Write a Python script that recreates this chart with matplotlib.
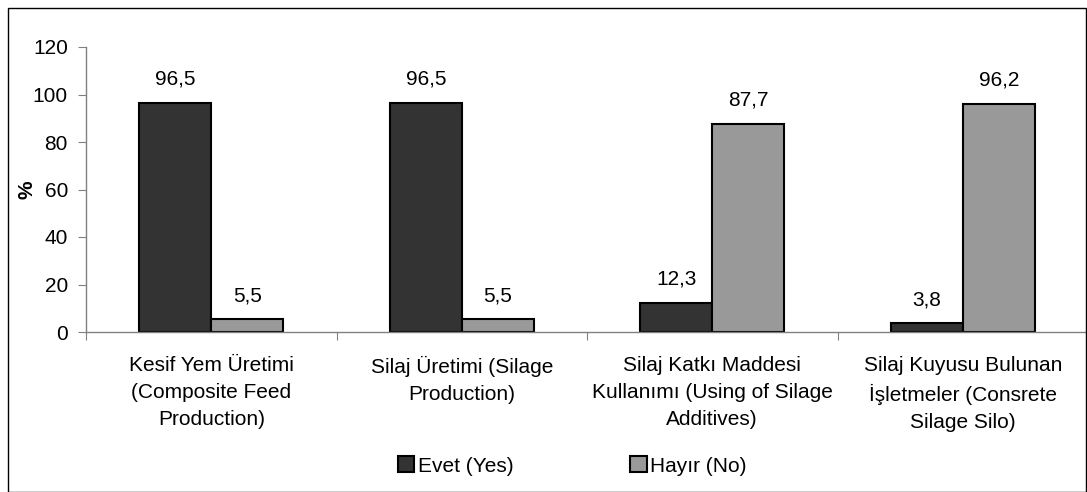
import matplotlib
matplotlib.use("Agg")
import matplotlib.pyplot as plt
from matplotlib.patches import Rectangle
import numpy as np

categories = [
    "Kesif Yem Üretimi\n(Composite Feed\nProduction)",
    "Silaj Üretimi (Silage\nProduction)",
    "Silaj Katkı Maddesi\nKullanımı (Using of Silage\nAdditives)",
    "Silaj Kuyusu Bulunan\nİşletmeler (Consrete\nSilage Silo)",
]
evet = [96.5, 96.5, 12.3, 3.8]
hayir = [5.5, 5.5, 87.7, 96.2]
series_names = ["Evet (Yes)", "Hayır (No)"]
yticks = [0, 20, 40, 60, 80, 100, 120]

plt.rcParams['font.family'] = ['Liberation Sans', 'DejaVu Sans']
FS = 15

W, H = 1087, 492
fig = plt.figure(figsize=(W / 100, H / 100), dpi=100)
ax = fig.add_axes([86 / W, 160 / H, 1002 / W, 285 / H])

x = np.arange(len(categories))
bw = 0.287
b1 = ax.bar(x - bw / 2, evet, bw, color="#333333", edgecolor="black", linewidth=1.5, label=series_names[0])
b2 = ax.bar(x + bw / 2, hayir, bw, color="#999999", edgecolor="black", linewidth=1.5, label=series_names[1])

for bars, vals in ((b1, evet), (b2, hayir)):
    for r, v in zip(bars, vals):
        ax.annotate(f"{v:.1f}".replace(".", ","), (r.get_x() + r.get_width() / 2, v),
                    xytext=(0, 10), textcoords="offset points", ha="center", va="bottom",
                    fontsize=FS)

ax.set_xlim(-0.5, len(categories) - 0.5)
ax.set_ylim(0, 120)
ax.set_yticks(yticks)
ax.set_yticklabels([str(t) for t in yticks], fontsize=FS)
ax.set_xticks(np.arange(len(categories) + 1) - 0.5)
ax.set_xticklabels([])
ax.set_xticks(x, minor=True)
ax.set_xticklabels(categories, minor=True, fontsize=FS, linespacing=1.53, va="top")
ax.tick_params(axis="x", which="major", length=5.5, direction="out", color="#808080")
ax.tick_params(axis="x", which="minor", length=0, pad=17)
ax.tick_params(axis="y", length=5.5, direction="out", color="#808080", pad=7.5)
for s in ("top", "right"):
    ax.spines[s].set_visible(False)
for s in ("left", "bottom"):
    ax.spines[s].set_color("#808080")
    ax.spines[s].set_linewidth(1)

fig.text(27 / W, (H - 190) / H, "%", rotation=90, ha="center", va="center",
         fontsize=FS, fontweight="bold")

leg = fig.legend(handles=[b1, b2], labels=series_names, loc="center",
                 bbox_to_anchor=(572 / W, (H - 466) / H), ncol=2, frameon=False,
                 fontsize=FS, handlelength=0.8, handleheight=0.8, handletextpad=0.15,
                 columnspacing=5.6)

fig.patches.append(Rectangle((8 / W, 0.5 / H), 1078 / W, 483.5 / H, transform=fig.transFigure,
                             fill=False, edgecolor="black", linewidth=1))

fig.savefig("out.png", dpi=100)
